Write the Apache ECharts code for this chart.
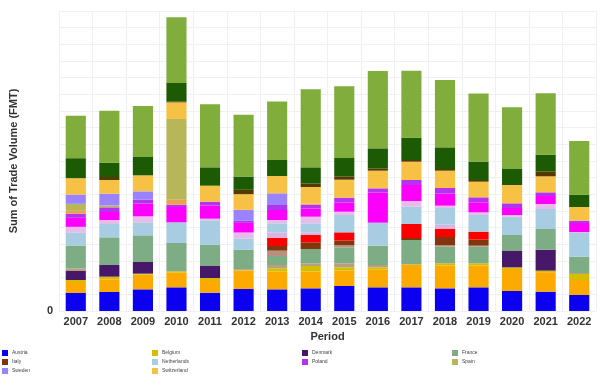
<!DOCTYPE html>
<html>
<head>
<meta charset="utf-8">
<script src="https://cdn.jsdelivr.net/npm/echarts@6/dist/echarts.min.js"></script>
<style>html,body{margin:0;padding:0;background:#fff;}#c{width:600px;height:390px;}</style>
</head>
<body>
<div id="c"></div>
<script>
var periods = ['2007','2008','2009','2010','2011','2012','2013','2014','2015','2016','2017','2018','2019','2020','2021','2022'];

var austria     = [1080,1140,1300,1420,1100,1320,1300,1360,1500,1420,1420,1360,1420,1200,1160,960];
var orangeSeg   = [660,760,880,900,760,1100,1060,1000,920,1080,1380,1380,1320,1320,1170,900];
var belgium     = [120,160,60,60,120,30,200,340,200,120,0,120,120,100,90,360];
var denmark     = [540,700,700,0,720,0,0,0,0,0,0,0,0,980,1260,0];
var tanLow      = [150,0,0,0,0,60,200,160,240,140,0,0,0,0,0,60];
var france      = [1380,1660,1600,1700,1280,1160,540,860,960,1160,1460,1000,1000,960,1240,980];
var tanHigh     = [0,0,0,0,0,0,320,0,140,0,0,80,60,0,0,0];
var italy       = [0,0,0,0,0,0,280,400,260,0,120,500,360,0,0,0];
var redSeg      = [0,0,0,0,0,0,500,440,500,0,840,500,480,0,0,0];
var lilacLow    = [0,0,0,0,0,0,320,140,0,0,0,240,0,0,0,0];
var netherlands = [760,800,780,1240,1460,680,540,560,1040,1380,1040,1000,1000,1100,1200,1420];
var lilacHigh   = [360,240,360,0,100,360,200,400,200,0,340,140,160,100,300,60];
var magentaSeg  = [540,480,760,920,780,580,600,480,540,1800,960,720,600,420,480,540];
var poland      = [240,280,240,140,240,120,300,240,300,260,300,340,300,280,220,140];
var amberSeg    = [180,0,0,300,0,0,0,60,0,0,0,0,0,0,0,0];
var spain       = [420,120,0,4840,0,0,0,0,0,0,0,0,0,0,0,0];
var sweden      = [560,700,500,0,0,660,700,0,0,0,0,0,0,0,0,0];
var switzerland = [980,820,960,1000,960,940,1040,1000,1080,1060,1100,1040,940,1100,960,820];
var brownSeg    = [0,180,0,60,0,260,0,200,200,140,100,100,100,0,300,0];
var darkGreen   = [1200,860,1100,1100,1100,800,960,980,1100,1200,1340,1300,1100,960,1000,740];
var lightGreen  = [2550,3110,3060,3940,3790,3700,3510,4680,4300,4640,4020,4040,4090,3700,3680,3220];

var yTickLabels = ['0'];

var stackDefs = [
  ['Austria', austria, '#0c00f0'],
  ['Series A', orangeSeg, '#fdaa00'],
  ['Belgium', belgium, '#d6bd00'],
  ['Denmark', denmark, '#471769'],
  ['Series B', tanLow, '#b7a07e'],
  ['France', france, '#7eac85'],
  ['Series C', tanHigh, '#b8907f'],
  ['Italy', italy, '#82360e'],
  ['Series D', redSeg, '#fb0000'],
  ['Series E', lilacLow, '#d8b4e2'],
  ['Netherlands', netherlands, '#a8cce2'],
  ['Series F', lilacHigh, '#e6bcea'],
  ['Series G', magentaSeg, '#fc00fc'],
  ['Poland', poland, '#b533ef'],
  ['Series H', amberSeg, '#eea052'],
  ['Spain', spain, '#b7b75a'],
  ['Sweden', sweden, '#9b82ff'],
  ['Switzerland', switzerland, '#f6c145'],
  ['Series I', brownSeg, '#553a00'],
  ['Series J', darkGreen, '#1d5a04'],
  ['Series K', lightGreen, '#80ad3b']
];

var series = stackDefs.map(function (d) {
  return {
    name: d[0], type: 'bar', stack: 'total', data: d[1],
    barWidth: '60%',
    itemStyle: { color: d[2] },
    emphasis: { disabled: true }
  };
});

var legendCols = [
  { left: 2, names: ['Austria', 'Italy', 'Sweden'] },
  { left: 152, names: ['Belgium', 'Netherlands', 'Switzerland'] },
  { left: 302, names: ['Denmark', 'Poland'] },
  { left: 452, names: ['France', 'Spain'] }
];

var legends = legendCols.map(function (c) {
  return {
    data: c.names, left: c.left, top: 350, orient: 'vertical',
    itemWidth: 6, itemHeight: 6, itemGap: 3, icon: 'rect',
    selectedMode: false, padding: 0,
    textStyle: { fontSize: 5, color: '#444', lineHeight: 6, fontFamily: 'Arial, Liberation Sans', padding: [0, 0, 0, -1] }
  };
});

var chart = echarts.init(document.getElementById('c'), null, { renderer: 'canvas' });
chart.setOption({
  animation: false,
  backgroundColor: '#ffffff',
  legend: legends,
  grid: { left: 57, right: 4, top: 11, bottom: 79, containLabel: false },
  xAxis: {
    type: 'category', data: periods,
    name: 'Period', nameLocation: 'middle', nameGap: 17,
    nameTextStyle: { fontSize: 11, fontWeight: 'bold', color: '#333', fontFamily: 'Arial, Liberation Sans' },
    axisLine: { show: false }, axisTick: { show: false },
    axisLabel: { fontSize: 11, fontWeight: 'bold', color: '#333', margin: 5, fontFamily: 'Arial, Liberation Sans' },
    splitLine: { show: true, lineStyle: { color: '#f0f0f0', width: 1 } }
  },
  yAxis: {
    type: 'value', min: 0, max: 18000, interval: 1000,
    name: 'Sum of Trade Volume (FMT)', nameLocation: 'middle', nameGap: 40,
    nameTextStyle: { fontSize: 11, fontWeight: 'bold', color: '#333', fontFamily: 'Arial, Liberation Sans' },
    axisLine: { show: false }, axisTick: { show: false },
    axisLabel: {
      fontSize: 11, fontWeight: 'bold', color: '#333', margin: 6, fontFamily: 'Arial, Liberation Sans',
      formatter: function (v) { return v === 0 ? yTickLabels[0] : ''; }
    },
    splitLine: { show: true, lineStyle: { color: '#f0f0f0', width: 1 } }
  },
  series: series
});
</script>
</body>
</html>
